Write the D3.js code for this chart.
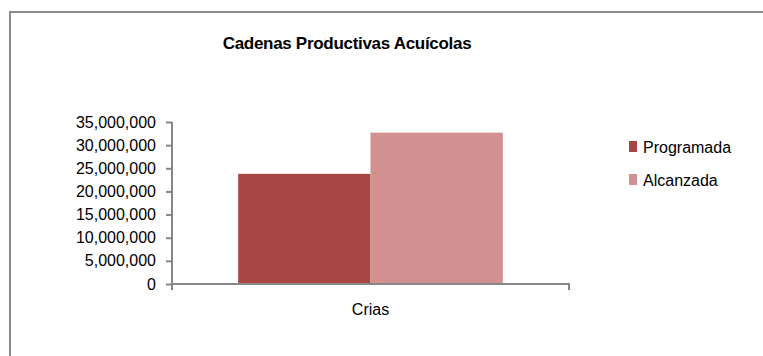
<!DOCTYPE html>
<html>
<head>
<meta charset="utf-8">
<script src="https://cdn.jsdelivr.net/npm/d3@7"></script>
<style>
  html, body { margin: 0; padding: 0; background: #fff; }
  svg { display: block; font-family: "Liberation Sans", Arial, sans-serif; }
</style>
</head>
<body>
<svg id="chart" width="763" height="356"></svg>
<script>
const title = "Cadenas Productivas Acuícolas";
const categories = ["Crias"];
const seriesNames = ["Programada", "Alcanzada"];
const seriesColors = ["#a84644", "#d29190"];
const programada = [23800000];
const alcanzada = [32700000];
const yTicks = [0, 5000000, 10000000, 15000000, 20000000, 25000000, 30000000, 35000000];

const data = categories.map((c, i) => ({ cat: c, values: [programada[i], alcanzada[i]] }));

const svg = d3.select("#chart");

// outer frame
svg.append("rect")
  .attr("x", 10).attr("y", 12)
  .attr("width", 800).attr("height", 400)
  .attr("fill", "none").attr("stroke", "#8c8c8c").attr("stroke-width", 2);

// title
svg.append("text")
  .attr("x", 347).attr("y", 49)
  .attr("text-anchor", "middle")
  .attr("font-size", 17).attr("font-weight", "bold")
  .attr("letter-spacing", -0.3)
  .attr("fill", "#000")
  .text(title);

const x0 = 172, x1 = 569, yTop = 122, yBot = 284;

const x = d3.scaleBand().domain(categories).range([x0, x1]).paddingInner(0).paddingOuter(0.25);
const xs = d3.scaleBand().domain(seriesNames).range([0, x.bandwidth()]).padding(0);
const y = d3.scaleLinear().domain([0, 35000000]).range([yBot, yTop]);

// bars
const g = svg.append("g");
data.forEach(d => {
  d.values.forEach((v, j) => {
    g.append("rect")
      .attr("x", x(d.cat) + xs(seriesNames[j]))
      .attr("y", y(v))
      .attr("width", xs.bandwidth())
      .attr("height", y(0) - y(v))
      .attr("fill", seriesColors[j]);
  });
});

// y axis
const yAxis = d3.axisLeft(y).tickValues(yTicks).tickSize(6).tickPadding(10)
  .tickFormat(d3.format(","));
const ya = svg.append("g").attr("transform", `translate(${x0},0)`).call(yAxis);
ya.selectAll("path, line").attr("stroke", "#868686").attr("stroke-width", 2);
ya.select(".domain").attr("d", `M0,${yTop}V${yBot}`);
ya.selectAll("text").attr("font-size", 16).attr("fill", "#000")
  .attr("font-family", "'Liberation Sans', Arial, sans-serif");

// x axis
const xAxis = d3.axisBottom(x).tickSize(0).tickPadding(20);
const xa = svg.append("g").attr("transform", `translate(0,${yBot})`).call(xAxis);
xa.select(".domain").attr("d", `M${x0},6V0H${x1}V6`).attr("stroke", "#868686").attr("stroke-width", 2).attr("fill", "none");
xa.selectAll("text").attr("font-size", 16).attr("fill", "#000")
  .attr("font-family", "'Liberation Sans', Arial, sans-serif");

// legend
const legend = svg.append("g");
seriesNames.forEach((s, i) => {
  const ly = 153 + i * 33;
  legend.append("rect")
    .attr("x", 629).attr("y", ly - 12)
    .attr("width", 8).attr("height", 11)
    .attr("fill", seriesColors[i]);
  legend.append("text")
    .attr("x", 643).attr("y", ly)
    .attr("font-size", 16).attr("fill", "#000")
    .text(s);
});
</script>
</body>
</html>
